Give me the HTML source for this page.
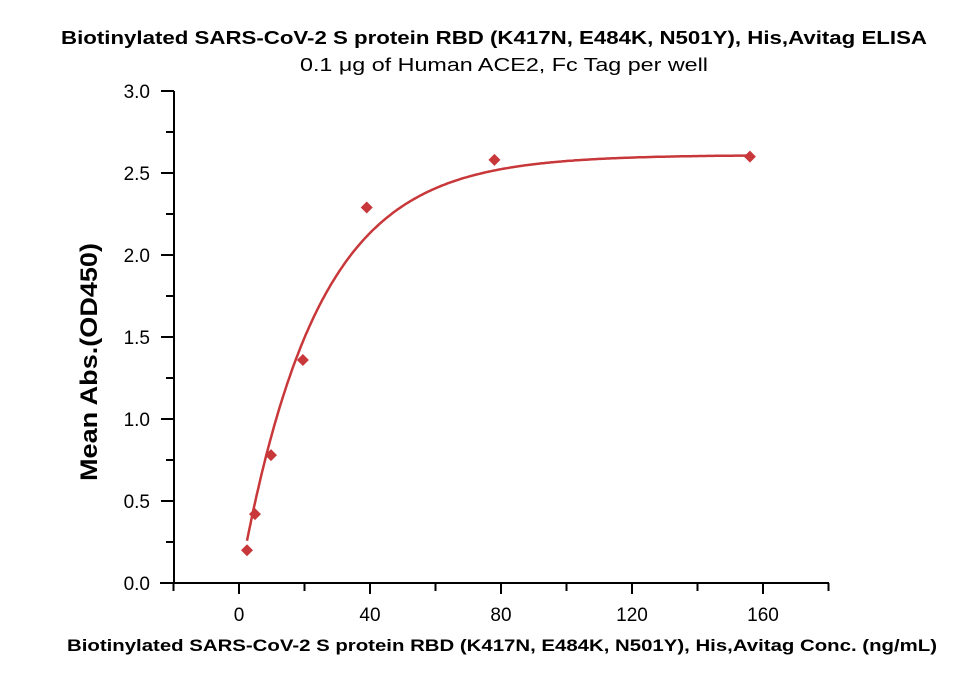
<!DOCTYPE html>
<html><head><meta charset="utf-8"><style>
body{margin:0;background:#fff;}
svg text{font-family:"Liberation Sans",sans-serif;}
</style></head><body>
<svg width="959" height="685" viewBox="0 0 959 685" xmlns="http://www.w3.org/2000/svg">
<text x="494" y="44" text-anchor="middle" font-size="18" font-weight="bold" textLength="866" lengthAdjust="spacingAndGlyphs">Biotinylated SARS-CoV-2 S protein RBD (K417N, E484K, N501Y), His,Avitag ELISA</text>
<text x="504" y="71" text-anchor="middle" font-size="18" textLength="408" lengthAdjust="spacingAndGlyphs">0.1 μg of Human ACE2, Fc Tag per well</text>
<text transform="translate(97,362) rotate(-90)" text-anchor="middle" font-size="24" font-weight="bold" textLength="238" lengthAdjust="spacingAndGlyphs">Mean Abs.(OD450)</text>
<text x="502" y="651" text-anchor="middle" font-size="17" font-weight="bold" textLength="870" lengthAdjust="spacingAndGlyphs">Biotinylated SARS-CoV-2 S protein RBD (K417N, E484K, N501Y), His,Avitag Conc. (ng/mL)</text>
<g id="axes"></g>
<g id="marks"></g>
</svg>
<script>
const concs=[2.44,4.88,9.77,19.5,39,78,156];
const absVals=[0.2,0.42,0.78,1.36,2.29,2.58,2.60];
const xTicks=[0,40,80,120,160];
const yTicks=[0.0,0.5,1.0,1.5,2.0,2.5,3.0];
const fitTop=2.61, fitK=23.5;
const X=v=>239+v*(65.5/20);
const Y=v=>583-v*(492/3);
const NS="http://www.w3.org/2000/svg";
const axes=document.getElementById('axes'), marks=document.getElementById('marks');
function mk(t,a,p){const e=document.createElementNS(NS,t);for(const k in a)e.setAttribute(k,a[k]);p.appendChild(e);return e;}
const xa=mk('line',{x1:160,y1:583,x2:829,y2:583,stroke:'#000','stroke-width':2},axes);


const ya=mk('line',{x1:174,y1:583,x2:174,y2:Y(3),stroke:'#000','stroke-width':2},axes);


for(let v=-20;v<=180;v+=20){const maj=xTicks.includes(v);
 const l=mk('line',{x1:X(v),y1:583,x2:X(v),y2:maj?594:591,stroke:'#000','stroke-width':2},axes);
 
 }
xTicks.forEach(v=>{const t=mk('text',{x:X(v),y:621,'text-anchor':'middle','font-size':19},axes);t.textContent=v;
 
 });
for(let i=0;i<=12;i++){const v=i*0.25;const maj=i%2==0;
 const l=mk('line',{x1:174,y1:Y(v),x2:maj?161:166,y2:Y(v),stroke:'#000','stroke-width':2},axes);
 
 }
yTicks.forEach(v=>{const t=mk('text',{x:150,y:Y(v)+7,'text-anchor':'end','font-size':19},axes);t.textContent=v.toFixed(1);
 
 });
let d='';for(let x=concs[0];x<=concs[concs.length-1];x+=0.5){const y=fitTop*(1-Math.exp(-x/fitK));d+=(d?'L':'M')+X(x).toFixed(1)+','+Y(y).toFixed(1);}
const c=mk('path',{d:d,fill:'none',stroke:'#c8383a','stroke-width':2.5},marks);


concs.forEach((x,i)=>{const cx=X(x),cy=Y(absVals[i]);
 const p=mk('polygon',{points:`${cx},${cy-6} ${cx+6},${cy} ${cx},${cy+6} ${cx-6},${cy}`,fill:'#c8383a'},marks);
 
 });
</script>
</body></html>
